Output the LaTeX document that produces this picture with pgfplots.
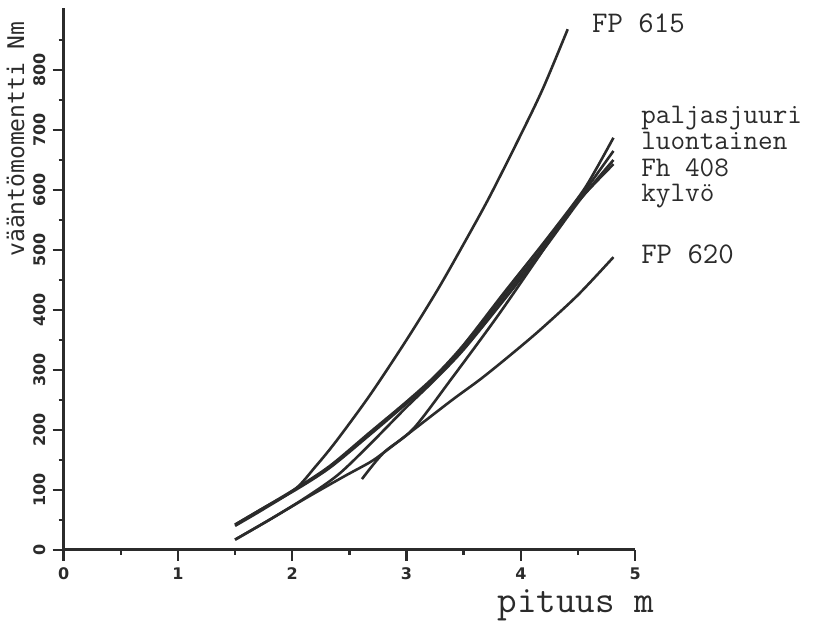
\documentclass[border=0pt]{standalone}
\usepackage{pgfplots}
\pgfplotsset{compat=1.18}
\usepackage{fontspec}
\newfontfamily\letterfont{DejaVu Sans Mono}
\newfontfamily\tickfont{DejaVu Sans}
\definecolor{ink}{HTML}{2B2B2B}
\tikzset{lbl/.style={anchor=base west, inner sep=0pt, font=\ttfamily\addfontfeature{FakeBold=1}\fontsize{15}{16}\selectfont, text=ink},
  glbl/.style={lbl, font=\ttfamily\addfontfeature{FakeBold=1}\fontsize{14.2}{15}\selectfont}}
\begin{document}
\begin{tikzpicture}
\begin{axis}[
  scale only axis, width=286pt, height=271pt,
  xmin=0, xmax=5, ymin=0, ymax=903,
  axis x line*=bottom, axis y line*=left,
  axis line style={ink, line width=1.4pt, -},
  xtick={0,1,2,3,4,5}, ytick={0,100,200,300,400,500,600,700,800},
  minor xtick={0.5,1.5,2.5,3.5,4.5}, minor ytick={50,150,250,350,450,550,650,750,850},
  tick align=outside, major tick length=5.5pt, minor tick length=2.5pt,
  every tick/.style={ink, line width=1.2pt},
  tick label style={font=\tickfont\bfseries\fontsize{8}{9}\selectfont, text=ink},
  /pgf/number format/assume math mode=true,
  yticklabel style={rotate=90, anchor=south},
  clip=false,
  cycle list={{ink, solid, line width=1.3pt, smooth, mark=none}},
  every axis plot post/.append style={ink, solid, line width=1.3pt, smooth, mark=none},
]
% FP 615
\addplot coordinates {(1.5,40) (1.75,68) (2.03,102) (2.2,138) (2.38,180) (2.68,258) (3.0,350) (3.27,433) (3.5,510) (3.73,590) (4.02,700) (4.2,772) (4.41,868)};
% paljasjuuri
\addplot coordinates {(1.5,42) (1.75,70) (2.03,102) (2.33,140) (2.68,196) (3.0,247) (3.25,290) (3.5,342) (3.85,428) (4.2,512) (4.52,592) (4.65,632) (4.81,687)};
% luontainen
\addplot coordinates {(1.5,42) (1.75,70) (2.03,100) (2.33,137) (2.68,192) (3.0,244) (3.25,287) (3.5,338) (3.85,422) (4.2,506) (4.52,588) (4.81,665)};
% Fh 408
\addplot coordinates {(1.5,17) (1.8,50) (2.1,85) (2.4,125) (2.68,176) (3.0,238) (3.25,284) (3.5,334) (3.85,416) (4.2,501) (4.52,584) (4.81,650)};
% kylvo
\addplot coordinates {(2.61,118) (2.8,162) (3.06,202) (3.4,287) (3.79,388) (4.15,487) (4.45,570) (4.81,643)};
% FP 620
\addplot coordinates {(1.5,17) (1.8,50) (2.1,84) (2.45,122) (2.68,146) (2.8,162) (3.06,200) (3.4,250) (3.65,285) (3.91,325) (4.17,367) (4.5,425) (4.81,488)};

\node[lbl] at (axis cs:4.62,862) {FP 615};
\node[glbl] at (axis cs:5.05,710) {paljasjuuri};
\node[glbl] at (axis cs:5.05,667) {luontainen};
\node[glbl] at (axis cs:5.05,623) {Fh 408};
\node[glbl] at (axis cs:5.05,580) {kylvö};
\node[lbl] at (axis cs:5.05,478) {FP 620};
\node[font=\ttfamily\addfontfeature{FakeBold=1}\fontsize{19}{20}\selectfont, text=ink] at (axis cs:4.48,-92) {pituus m};
\node[rotate=90, font=\letterfont\fontsize{11.5}{12}\selectfont, text=ink] at (axis cs:-0.42,685) {vääntömomentti Nm};
\path (axis cs:-0.551,916.7) rectangle (axis cs:6.608,-128.3);
\end{axis}
\end{tikzpicture}
\end{document}
